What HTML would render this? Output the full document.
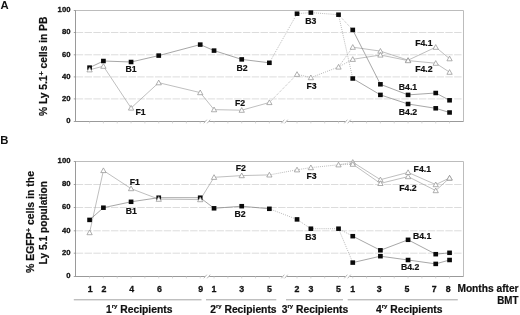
<!DOCTYPE html>
<html><head><meta charset="utf-8"><title>Figure</title>
<style>
html,body{margin:0;padding:0;background:#fff;}
body{width:520px;height:315px;overflow:hidden;}
svg{display:block;}
text{font-family:"Liberation Sans",Arial,sans-serif;font-weight:bold;fill:#111;}
.tk{font-size:7.7px;stroke:#111;stroke-width:0.3px;}
.xt{font-size:8.8px;stroke:#111;stroke-width:0.3px;}
.lb{font-size:8.7px;stroke:#111;stroke-width:0.2px;}
.ax{font-size:10px;stroke:#111;stroke-width:0.2px;}
.pn{font-size:11.3px;}
</style></head><body>
<svg width="520" height="315" viewBox="0 0 520 315">
<rect width="520" height="315" fill="#fff"/>
<line x1="75.75" y1="32.50" x2="463.5" y2="32.50" stroke="#d8d8d8" stroke-width="0.9" stroke-dasharray="7.4 1.4"/>
<line x1="75.75" y1="54.80" x2="463.5" y2="54.80" stroke="#d8d8d8" stroke-width="0.9" stroke-dasharray="7.4 1.4"/>
<line x1="75.75" y1="76.90" x2="463.5" y2="76.90" stroke="#d8d8d8" stroke-width="0.9" stroke-dasharray="7.4 1.4"/>
<line x1="75.75" y1="98.90" x2="463.5" y2="98.90" stroke="#d8d8d8" stroke-width="0.9" stroke-dasharray="7.4 1.4"/>
<path d="M75.5 10.5 H463.5 V121.5" fill="none" stroke="#bcbcbc" stroke-width="1"/>
<path d="M75.5 10.5 V121.5 H463.5" fill="none" stroke="#9a9a9a" stroke-width="1"/>
<line x1="73.75" y1="10.50" x2="75.75" y2="10.50" stroke="#8a8a8a" stroke-width="0.8"/>
<line x1="73.75" y1="32.50" x2="75.75" y2="32.50" stroke="#8a8a8a" stroke-width="0.8"/>
<line x1="73.75" y1="54.80" x2="75.75" y2="54.80" stroke="#8a8a8a" stroke-width="0.8"/>
<line x1="73.75" y1="76.90" x2="75.75" y2="76.90" stroke="#8a8a8a" stroke-width="0.8"/>
<line x1="73.75" y1="98.90" x2="75.75" y2="98.90" stroke="#8a8a8a" stroke-width="0.8"/>
<line x1="73.75" y1="121.50" x2="75.75" y2="121.50" stroke="#8a8a8a" stroke-width="0.8"/>
<line x1="89.58" y1="121.0" x2="89.58" y2="123.4" stroke="#bdbdbd" stroke-width="0.6"/>
<line x1="103.41" y1="121.0" x2="103.41" y2="123.4" stroke="#bdbdbd" stroke-width="0.6"/>
<line x1="117.24" y1="121.0" x2="117.24" y2="123.4" stroke="#bdbdbd" stroke-width="0.6"/>
<line x1="131.07" y1="121.0" x2="131.07" y2="123.4" stroke="#bdbdbd" stroke-width="0.6"/>
<line x1="144.9" y1="121.0" x2="144.9" y2="123.4" stroke="#bdbdbd" stroke-width="0.6"/>
<line x1="158.73" y1="121.0" x2="158.73" y2="123.4" stroke="#bdbdbd" stroke-width="0.6"/>
<line x1="172.56" y1="121.0" x2="172.56" y2="123.4" stroke="#bdbdbd" stroke-width="0.6"/>
<line x1="186.39" y1="121.0" x2="186.39" y2="123.4" stroke="#bdbdbd" stroke-width="0.6"/>
<line x1="200.22" y1="121.0" x2="200.22" y2="123.4" stroke="#bdbdbd" stroke-width="0.6"/>
<line x1="214.05" y1="121.0" x2="214.05" y2="123.4" stroke="#bdbdbd" stroke-width="0.6"/>
<line x1="227.88" y1="121.0" x2="227.88" y2="123.4" stroke="#bdbdbd" stroke-width="0.6"/>
<line x1="241.71" y1="121.0" x2="241.71" y2="123.4" stroke="#bdbdbd" stroke-width="0.6"/>
<line x1="255.54" y1="121.0" x2="255.54" y2="123.4" stroke="#bdbdbd" stroke-width="0.6"/>
<line x1="269.37" y1="121.0" x2="269.37" y2="123.4" stroke="#bdbdbd" stroke-width="0.6"/>
<line x1="283.2" y1="121.0" x2="283.2" y2="123.4" stroke="#bdbdbd" stroke-width="0.6"/>
<line x1="297.03" y1="121.0" x2="297.03" y2="123.4" stroke="#bdbdbd" stroke-width="0.6"/>
<line x1="310.86" y1="121.0" x2="310.86" y2="123.4" stroke="#bdbdbd" stroke-width="0.6"/>
<line x1="324.69" y1="121.0" x2="324.69" y2="123.4" stroke="#bdbdbd" stroke-width="0.6"/>
<line x1="338.52" y1="121.0" x2="338.52" y2="123.4" stroke="#bdbdbd" stroke-width="0.6"/>
<line x1="352.75" y1="121.0" x2="352.75" y2="123.4" stroke="#bdbdbd" stroke-width="0.6"/>
<line x1="366.58" y1="121.0" x2="366.58" y2="123.4" stroke="#bdbdbd" stroke-width="0.6"/>
<line x1="380.41" y1="121.0" x2="380.41" y2="123.4" stroke="#bdbdbd" stroke-width="0.6"/>
<line x1="394.24" y1="121.0" x2="394.24" y2="123.4" stroke="#bdbdbd" stroke-width="0.6"/>
<line x1="408.07" y1="121.0" x2="408.07" y2="123.4" stroke="#bdbdbd" stroke-width="0.6"/>
<line x1="421.9" y1="121.0" x2="421.9" y2="123.4" stroke="#bdbdbd" stroke-width="0.6"/>
<line x1="435.73" y1="121.0" x2="435.73" y2="123.4" stroke="#bdbdbd" stroke-width="0.6"/>
<line x1="449.56" y1="121.0" x2="449.56" y2="123.4" stroke="#bdbdbd" stroke-width="0.6"/>
<rect x="204.8" y="120.5" width="4.4" height="2" fill="#fff"/>
<line x1="203.8" y1="123.3" x2="206.8" y2="119.7" stroke="#9a9a9a" stroke-width="0.7"/>
<line x1="207.2" y1="123.3" x2="210.2" y2="119.7" stroke="#9a9a9a" stroke-width="0.7"/>
<rect x="282.3" y="120.5" width="4.4" height="2" fill="#fff"/>
<line x1="281.3" y1="123.3" x2="284.3" y2="119.7" stroke="#9a9a9a" stroke-width="0.7"/>
<line x1="284.7" y1="123.3" x2="287.7" y2="119.7" stroke="#9a9a9a" stroke-width="0.7"/>
<rect x="345.3" y="120.5" width="4.4" height="2" fill="#fff"/>
<line x1="344.3" y1="123.3" x2="347.3" y2="119.7" stroke="#9a9a9a" stroke-width="0.7"/>
<line x1="347.7" y1="123.3" x2="350.7" y2="119.7" stroke="#9a9a9a" stroke-width="0.7"/>
<text x="70.45" y="12.40" text-anchor="end" class="tk">100</text>
<text x="70.45" y="34.40" text-anchor="end" class="tk">80</text>
<text x="70.45" y="56.70" text-anchor="end" class="tk">60</text>
<text x="70.45" y="78.80" text-anchor="end" class="tk">40</text>
<text x="70.45" y="100.80" text-anchor="end" class="tk">20</text>
<text x="70.45" y="123.40" text-anchor="end" class="tk">0</text>
<polyline points="89.58,69.8 103.41,66.2 131.07,108.0 158.73,82.7 200.22,92.6 214.05,109.65 241.71,110.2 269.37,102.5" fill="none" stroke="#949494" stroke-width="0.6"/>
<polyline points="269.37,102.5 297.03,74.3" fill="none" stroke="#8c8c8c" stroke-width="0.6" stroke-dasharray="1 1.1"/>
<polyline points="297.03,74.3 310.86,77.6 338.52,67.0" fill="none" stroke="#8c8c8c" stroke-width="0.6" stroke-dasharray="1 1.1"/>
<polyline points="338.52,67.0 352.75,47.2" fill="none" stroke="#8c8c8c" stroke-width="0.6" stroke-dasharray="1 1.1"/>
<polyline points="338.52,67.0 352.75,59.3" fill="none" stroke="#8c8c8c" stroke-width="0.6" stroke-dasharray="1 1.1"/>
<polyline points="352.75,47.2 380.41,51.1 408.07,60.2 435.73,47.2 449.56,58.7" fill="none" stroke="#949494" stroke-width="0.6"/>
<polyline points="352.75,59.3 380.41,55.0 408.07,60.6 435.73,63.2 449.56,72.2" fill="none" stroke="#949494" stroke-width="0.6"/>
<polyline points="89.58,67.6 103.41,61.0 131.07,62.0 158.73,55.6 200.22,44.6 214.05,50.6 241.71,59.4 269.37,62.8" fill="none" stroke="#6c6c6c" stroke-width="0.6"/>
<polyline points="269.37,62.8 297.03,13.7" fill="none" stroke="#8c8c8c" stroke-width="0.6" stroke-dasharray="1 1.1"/>
<polyline points="297.03,13.7 310.86,12.6 338.52,14.7" fill="none" stroke="#8c8c8c" stroke-width="0.6" stroke-dasharray="1 1.1"/>
<polyline points="338.52,14.7 352.75,29.9" fill="none" stroke="#8c8c8c" stroke-width="0.6" stroke-dasharray="1 1.1"/>
<polyline points="338.52,14.7 352.75,78.5" fill="none" stroke="#8c8c8c" stroke-width="0.6" stroke-dasharray="1 1.1"/>
<polyline points="352.75,29.9 380.41,84.3 408.07,94.9 435.73,93.0 449.56,100.3" fill="none" stroke="#6c6c6c" stroke-width="0.6"/>
<polyline points="352.75,78.5 380.41,94.9 408.07,104.0 435.73,108.3 449.56,112.5" fill="none" stroke="#6c6c6c" stroke-width="0.6"/>
<rect x="87.23" y="65.35" width="4.7" height="4.5" fill="#0a0a0a"/>
<rect x="101.06" y="58.75" width="4.7" height="4.5" fill="#0a0a0a"/>
<rect x="128.72" y="59.75" width="4.7" height="4.5" fill="#0a0a0a"/>
<rect x="156.38" y="53.35" width="4.7" height="4.5" fill="#0a0a0a"/>
<rect x="197.87" y="42.35" width="4.7" height="4.5" fill="#0a0a0a"/>
<rect x="211.70" y="48.35" width="4.7" height="4.5" fill="#0a0a0a"/>
<rect x="239.36" y="57.15" width="4.7" height="4.5" fill="#0a0a0a"/>
<rect x="267.02" y="60.55" width="4.7" height="4.5" fill="#0a0a0a"/>
<rect x="294.68" y="11.45" width="4.7" height="4.5" fill="#0a0a0a"/>
<rect x="308.51" y="10.35" width="4.7" height="4.5" fill="#0a0a0a"/>
<rect x="336.17" y="12.45" width="4.7" height="4.5" fill="#0a0a0a"/>
<rect x="350.40" y="27.65" width="4.7" height="4.5" fill="#0a0a0a"/>
<rect x="378.06" y="82.05" width="4.7" height="4.5" fill="#0a0a0a"/>
<rect x="405.72" y="92.65" width="4.7" height="4.5" fill="#0a0a0a"/>
<rect x="433.38" y="90.75" width="4.7" height="4.5" fill="#0a0a0a"/>
<rect x="447.21" y="98.05" width="4.7" height="4.5" fill="#0a0a0a"/>
<rect x="350.40" y="76.25" width="4.7" height="4.5" fill="#0a0a0a"/>
<rect x="378.06" y="92.65" width="4.7" height="4.5" fill="#0a0a0a"/>
<rect x="405.72" y="101.75" width="4.7" height="4.5" fill="#0a0a0a"/>
<rect x="433.38" y="106.05" width="4.7" height="4.5" fill="#0a0a0a"/>
<rect x="447.21" y="110.25" width="4.7" height="4.5" fill="#0a0a0a"/>
<path d="M89.58 67.20 L92.23 71.90 L86.93 71.90 Z" fill="#fff" stroke="#8e8e8e" stroke-width="0.7"/>
<path d="M103.41 63.60 L106.06 68.30 L100.76 68.30 Z" fill="#fff" stroke="#8e8e8e" stroke-width="0.7"/>
<path d="M131.07 105.40 L133.72 110.10 L128.42 110.10 Z" fill="#fff" stroke="#8e8e8e" stroke-width="0.7"/>
<path d="M158.73 80.10 L161.38 84.80 L156.08 84.80 Z" fill="#fff" stroke="#8e8e8e" stroke-width="0.7"/>
<path d="M200.22 90.00 L202.87 94.70 L197.57 94.70 Z" fill="#fff" stroke="#8e8e8e" stroke-width="0.7"/>
<path d="M214.05 107.05 L216.70 111.75 L211.40 111.75 Z" fill="#fff" stroke="#8e8e8e" stroke-width="0.7"/>
<path d="M241.71 107.60 L244.36 112.30 L239.06 112.30 Z" fill="#fff" stroke="#8e8e8e" stroke-width="0.7"/>
<path d="M269.37 99.90 L272.02 104.60 L266.72 104.60 Z" fill="#fff" stroke="#8e8e8e" stroke-width="0.7"/>
<path d="M297.03 71.70 L299.68 76.40 L294.38 76.40 Z" fill="#fff" stroke="#8e8e8e" stroke-width="0.7"/>
<path d="M310.86 75.00 L313.51 79.70 L308.21 79.70 Z" fill="#fff" stroke="#8e8e8e" stroke-width="0.7"/>
<path d="M338.52 64.40 L341.17 69.10 L335.87 69.10 Z" fill="#fff" stroke="#8e8e8e" stroke-width="0.7"/>
<path d="M352.75 44.60 L355.40 49.30 L350.10 49.30 Z" fill="#fff" stroke="#8e8e8e" stroke-width="0.7"/>
<path d="M380.41 48.50 L383.06 53.20 L377.76 53.20 Z" fill="#fff" stroke="#8e8e8e" stroke-width="0.7"/>
<path d="M408.07 57.60 L410.72 62.30 L405.42 62.30 Z" fill="#fff" stroke="#8e8e8e" stroke-width="0.7"/>
<path d="M435.73 44.60 L438.38 49.30 L433.08 49.30 Z" fill="#fff" stroke="#8e8e8e" stroke-width="0.7"/>
<path d="M449.56 56.10 L452.21 60.80 L446.91 60.80 Z" fill="#fff" stroke="#8e8e8e" stroke-width="0.7"/>
<path d="M352.75 56.70 L355.40 61.40 L350.10 61.40 Z" fill="#fff" stroke="#8e8e8e" stroke-width="0.7"/>
<path d="M380.41 52.40 L383.06 57.10 L377.76 57.10 Z" fill="#fff" stroke="#8e8e8e" stroke-width="0.7"/>
<path d="M408.07 58.00 L410.72 62.70 L405.42 62.70 Z" fill="#fff" stroke="#8e8e8e" stroke-width="0.7"/>
<path d="M435.73 60.60 L438.38 65.30 L433.08 65.30 Z" fill="#fff" stroke="#8e8e8e" stroke-width="0.7"/>
<path d="M449.56 69.60 L452.21 74.30 L446.91 74.30 Z" fill="#fff" stroke="#8e8e8e" stroke-width="0.7"/>
<line x1="75.75" y1="184.50" x2="463.5" y2="184.50" stroke="#d8d8d8" stroke-width="0.9" stroke-dasharray="7.4 1.4"/>
<line x1="75.75" y1="207.50" x2="463.5" y2="207.50" stroke="#d8d8d8" stroke-width="0.9" stroke-dasharray="7.4 1.4"/>
<line x1="75.75" y1="230.80" x2="463.5" y2="230.80" stroke="#d8d8d8" stroke-width="0.9" stroke-dasharray="7.4 1.4"/>
<line x1="75.75" y1="253.20" x2="463.5" y2="253.20" stroke="#d8d8d8" stroke-width="0.9" stroke-dasharray="7.4 1.4"/>
<path d="M75.5 161.5 H463.5 V276.5" fill="none" stroke="#bcbcbc" stroke-width="1"/>
<path d="M75.5 161.5 V276.5 H463.5" fill="none" stroke="#9a9a9a" stroke-width="1"/>
<line x1="73.75" y1="161.50" x2="75.75" y2="161.50" stroke="#8a8a8a" stroke-width="0.8"/>
<line x1="73.75" y1="184.50" x2="75.75" y2="184.50" stroke="#8a8a8a" stroke-width="0.8"/>
<line x1="73.75" y1="207.50" x2="75.75" y2="207.50" stroke="#8a8a8a" stroke-width="0.8"/>
<line x1="73.75" y1="230.80" x2="75.75" y2="230.80" stroke="#8a8a8a" stroke-width="0.8"/>
<line x1="73.75" y1="253.20" x2="75.75" y2="253.20" stroke="#8a8a8a" stroke-width="0.8"/>
<line x1="73.75" y1="276.50" x2="75.75" y2="276.50" stroke="#8a8a8a" stroke-width="0.8"/>
<line x1="89.58" y1="276.0" x2="89.58" y2="278.4" stroke="#bdbdbd" stroke-width="0.6"/>
<line x1="103.41" y1="276.0" x2="103.41" y2="278.4" stroke="#bdbdbd" stroke-width="0.6"/>
<line x1="117.24" y1="276.0" x2="117.24" y2="278.4" stroke="#bdbdbd" stroke-width="0.6"/>
<line x1="131.07" y1="276.0" x2="131.07" y2="278.4" stroke="#bdbdbd" stroke-width="0.6"/>
<line x1="144.9" y1="276.0" x2="144.9" y2="278.4" stroke="#bdbdbd" stroke-width="0.6"/>
<line x1="158.73" y1="276.0" x2="158.73" y2="278.4" stroke="#bdbdbd" stroke-width="0.6"/>
<line x1="172.56" y1="276.0" x2="172.56" y2="278.4" stroke="#bdbdbd" stroke-width="0.6"/>
<line x1="186.39" y1="276.0" x2="186.39" y2="278.4" stroke="#bdbdbd" stroke-width="0.6"/>
<line x1="200.22" y1="276.0" x2="200.22" y2="278.4" stroke="#bdbdbd" stroke-width="0.6"/>
<line x1="214.05" y1="276.0" x2="214.05" y2="278.4" stroke="#bdbdbd" stroke-width="0.6"/>
<line x1="227.88" y1="276.0" x2="227.88" y2="278.4" stroke="#bdbdbd" stroke-width="0.6"/>
<line x1="241.71" y1="276.0" x2="241.71" y2="278.4" stroke="#bdbdbd" stroke-width="0.6"/>
<line x1="255.54" y1="276.0" x2="255.54" y2="278.4" stroke="#bdbdbd" stroke-width="0.6"/>
<line x1="269.37" y1="276.0" x2="269.37" y2="278.4" stroke="#bdbdbd" stroke-width="0.6"/>
<line x1="283.2" y1="276.0" x2="283.2" y2="278.4" stroke="#bdbdbd" stroke-width="0.6"/>
<line x1="297.03" y1="276.0" x2="297.03" y2="278.4" stroke="#bdbdbd" stroke-width="0.6"/>
<line x1="310.86" y1="276.0" x2="310.86" y2="278.4" stroke="#bdbdbd" stroke-width="0.6"/>
<line x1="324.69" y1="276.0" x2="324.69" y2="278.4" stroke="#bdbdbd" stroke-width="0.6"/>
<line x1="338.52" y1="276.0" x2="338.52" y2="278.4" stroke="#bdbdbd" stroke-width="0.6"/>
<line x1="352.75" y1="276.0" x2="352.75" y2="278.4" stroke="#bdbdbd" stroke-width="0.6"/>
<line x1="366.58" y1="276.0" x2="366.58" y2="278.4" stroke="#bdbdbd" stroke-width="0.6"/>
<line x1="380.41" y1="276.0" x2="380.41" y2="278.4" stroke="#bdbdbd" stroke-width="0.6"/>
<line x1="394.24" y1="276.0" x2="394.24" y2="278.4" stroke="#bdbdbd" stroke-width="0.6"/>
<line x1="408.07" y1="276.0" x2="408.07" y2="278.4" stroke="#bdbdbd" stroke-width="0.6"/>
<line x1="421.9" y1="276.0" x2="421.9" y2="278.4" stroke="#bdbdbd" stroke-width="0.6"/>
<line x1="435.73" y1="276.0" x2="435.73" y2="278.4" stroke="#bdbdbd" stroke-width="0.6"/>
<line x1="449.56" y1="276.0" x2="449.56" y2="278.4" stroke="#bdbdbd" stroke-width="0.6"/>
<rect x="204.8" y="275.5" width="4.4" height="2" fill="#fff"/>
<line x1="203.8" y1="278.3" x2="206.8" y2="274.7" stroke="#9a9a9a" stroke-width="0.7"/>
<line x1="207.2" y1="278.3" x2="210.2" y2="274.7" stroke="#9a9a9a" stroke-width="0.7"/>
<rect x="282.3" y="275.5" width="4.4" height="2" fill="#fff"/>
<line x1="281.3" y1="278.3" x2="284.3" y2="274.7" stroke="#9a9a9a" stroke-width="0.7"/>
<line x1="284.7" y1="278.3" x2="287.7" y2="274.7" stroke="#9a9a9a" stroke-width="0.7"/>
<rect x="345.3" y="275.5" width="4.4" height="2" fill="#fff"/>
<line x1="344.3" y1="278.3" x2="347.3" y2="274.7" stroke="#9a9a9a" stroke-width="0.7"/>
<line x1="347.7" y1="278.3" x2="350.7" y2="274.7" stroke="#9a9a9a" stroke-width="0.7"/>
<text x="70.45" y="163.40" text-anchor="end" class="tk">100</text>
<text x="70.45" y="186.40" text-anchor="end" class="tk">80</text>
<text x="70.45" y="209.40" text-anchor="end" class="tk">60</text>
<text x="70.45" y="232.70" text-anchor="end" class="tk">40</text>
<text x="70.45" y="255.10" text-anchor="end" class="tk">20</text>
<text x="70.45" y="278.40" text-anchor="end" class="tk">0</text>
<polyline points="89.58,232.6 103.41,170.5 131.07,188.6 158.73,199.2 200.22,199.6 214.05,177.3 241.71,175.6 269.37,174.9" fill="none" stroke="#949494" stroke-width="0.6"/>
<polyline points="269.37,174.9 297.03,169.8" fill="none" stroke="#8c8c8c" stroke-width="0.6" stroke-dasharray="1 1.1"/>
<polyline points="297.03,169.8 310.86,167.6 338.52,164.8" fill="none" stroke="#8c8c8c" stroke-width="0.6" stroke-dasharray="1 1.1"/>
<polyline points="338.52,164.8 352.75,162.2" fill="none" stroke="#8c8c8c" stroke-width="0.6" stroke-dasharray="1 1.1"/>
<polyline points="338.52,164.8 352.75,164.2" fill="none" stroke="#8c8c8c" stroke-width="0.6" stroke-dasharray="1 1.1"/>
<polyline points="352.75,162.2 380.41,179.7 408.07,172.4 435.73,184.6 449.56,178.0" fill="none" stroke="#949494" stroke-width="0.6"/>
<polyline points="352.75,164.2 380.41,183.4 408.07,176.6 435.73,190.6 449.56,178.0" fill="none" stroke="#949494" stroke-width="0.6"/>
<polyline points="89.58,219.9 103.41,207.7 131.07,201.8 158.73,197.7 200.22,197.7 214.05,208.3 241.71,206.2 269.37,208.8" fill="none" stroke="#6c6c6c" stroke-width="0.6"/>
<polyline points="269.37,208.8 297.03,219.4" fill="none" stroke="#8c8c8c" stroke-width="0.6" stroke-dasharray="1 1.1"/>
<polyline points="297.03,219.4 310.86,228.7 338.52,228.7" fill="none" stroke="#8c8c8c" stroke-width="0.6" stroke-dasharray="1 1.1"/>
<polyline points="338.52,228.7 352.75,236.2" fill="none" stroke="#8c8c8c" stroke-width="0.6" stroke-dasharray="1 1.1"/>
<polyline points="338.52,228.7 352.75,262.6" fill="none" stroke="#8c8c8c" stroke-width="0.6" stroke-dasharray="1 1.1"/>
<polyline points="352.75,236.2 380.41,250.3 408.07,239.8 435.73,254.2 449.56,252.8" fill="none" stroke="#6c6c6c" stroke-width="0.6"/>
<polyline points="352.75,262.6 380.41,256.2 408.07,260.0 435.73,263.9 449.56,260.0" fill="none" stroke="#6c6c6c" stroke-width="0.6"/>
<rect x="87.23" y="217.65" width="4.7" height="4.5" fill="#0a0a0a"/>
<rect x="101.06" y="205.45" width="4.7" height="4.5" fill="#0a0a0a"/>
<rect x="128.72" y="199.55" width="4.7" height="4.5" fill="#0a0a0a"/>
<rect x="156.38" y="195.45" width="4.7" height="4.5" fill="#0a0a0a"/>
<rect x="197.87" y="195.45" width="4.7" height="4.5" fill="#0a0a0a"/>
<rect x="211.70" y="206.05" width="4.7" height="4.5" fill="#0a0a0a"/>
<rect x="239.36" y="203.95" width="4.7" height="4.5" fill="#0a0a0a"/>
<rect x="267.02" y="206.55" width="4.7" height="4.5" fill="#0a0a0a"/>
<rect x="294.68" y="217.15" width="4.7" height="4.5" fill="#0a0a0a"/>
<rect x="308.51" y="226.45" width="4.7" height="4.5" fill="#0a0a0a"/>
<rect x="336.17" y="226.45" width="4.7" height="4.5" fill="#0a0a0a"/>
<rect x="350.40" y="233.95" width="4.7" height="4.5" fill="#0a0a0a"/>
<rect x="378.06" y="248.05" width="4.7" height="4.5" fill="#0a0a0a"/>
<rect x="405.72" y="237.55" width="4.7" height="4.5" fill="#0a0a0a"/>
<rect x="433.38" y="251.95" width="4.7" height="4.5" fill="#0a0a0a"/>
<rect x="447.21" y="250.55" width="4.7" height="4.5" fill="#0a0a0a"/>
<rect x="350.40" y="260.35" width="4.7" height="4.5" fill="#0a0a0a"/>
<rect x="378.06" y="253.95" width="4.7" height="4.5" fill="#0a0a0a"/>
<rect x="405.72" y="257.75" width="4.7" height="4.5" fill="#0a0a0a"/>
<rect x="433.38" y="261.65" width="4.7" height="4.5" fill="#0a0a0a"/>
<rect x="447.21" y="257.75" width="4.7" height="4.5" fill="#0a0a0a"/>
<path d="M89.58 230.00 L92.23 234.70 L86.93 234.70 Z" fill="#fff" stroke="#8e8e8e" stroke-width="0.7"/>
<path d="M103.41 167.90 L106.06 172.60 L100.76 172.60 Z" fill="#fff" stroke="#8e8e8e" stroke-width="0.7"/>
<path d="M131.07 186.00 L133.72 190.70 L128.42 190.70 Z" fill="#fff" stroke="#8e8e8e" stroke-width="0.7"/>
<path d="M158.73 196.60 L161.38 201.30 L156.08 201.30 Z" fill="#fff" stroke="#8e8e8e" stroke-width="0.7"/>
<path d="M200.22 197.00 L202.87 201.70 L197.57 201.70 Z" fill="#fff" stroke="#8e8e8e" stroke-width="0.7"/>
<path d="M214.05 174.70 L216.70 179.40 L211.40 179.40 Z" fill="#fff" stroke="#8e8e8e" stroke-width="0.7"/>
<path d="M241.71 173.00 L244.36 177.70 L239.06 177.70 Z" fill="#fff" stroke="#8e8e8e" stroke-width="0.7"/>
<path d="M269.37 172.30 L272.02 177.00 L266.72 177.00 Z" fill="#fff" stroke="#8e8e8e" stroke-width="0.7"/>
<path d="M297.03 167.20 L299.68 171.90 L294.38 171.90 Z" fill="#fff" stroke="#8e8e8e" stroke-width="0.7"/>
<path d="M310.86 165.00 L313.51 169.70 L308.21 169.70 Z" fill="#fff" stroke="#8e8e8e" stroke-width="0.7"/>
<path d="M338.52 162.20 L341.17 166.90 L335.87 166.90 Z" fill="#fff" stroke="#8e8e8e" stroke-width="0.7"/>
<path d="M352.75 159.60 L355.40 164.30 L350.10 164.30 Z" fill="#fff" stroke="#8e8e8e" stroke-width="0.7"/>
<path d="M380.41 177.10 L383.06 181.80 L377.76 181.80 Z" fill="#fff" stroke="#8e8e8e" stroke-width="0.7"/>
<path d="M408.07 169.80 L410.72 174.50 L405.42 174.50 Z" fill="#fff" stroke="#8e8e8e" stroke-width="0.7"/>
<path d="M435.73 182.00 L438.38 186.70 L433.08 186.70 Z" fill="#fff" stroke="#8e8e8e" stroke-width="0.7"/>
<path d="M449.56 175.40 L452.21 180.10 L446.91 180.10 Z" fill="#fff" stroke="#8e8e8e" stroke-width="0.7"/>
<path d="M352.75 161.60 L355.40 166.30 L350.10 166.30 Z" fill="#fff" stroke="#8e8e8e" stroke-width="0.7"/>
<path d="M380.41 180.80 L383.06 185.50 L377.76 185.50 Z" fill="#fff" stroke="#8e8e8e" stroke-width="0.7"/>
<path d="M408.07 174.00 L410.72 178.70 L405.42 178.70 Z" fill="#fff" stroke="#8e8e8e" stroke-width="0.7"/>
<path d="M435.73 188.00 L438.38 192.70 L433.08 192.70 Z" fill="#fff" stroke="#8e8e8e" stroke-width="0.7"/>
<path d="M449.56 175.40 L452.21 180.10 L446.91 180.10 Z" fill="#fff" stroke="#8e8e8e" stroke-width="0.7"/>
<text x="0.5" y="8.6" class="pn" text-anchor="start">A</text>
<text x="0.2" y="143.9" class="pn" text-anchor="start">B</text>
<text x="125.6" y="72.4" class="lb" text-anchor="start">B1</text>
<text x="135.4" y="115" class="lb" text-anchor="start">F1</text>
<text x="236.6" y="70.8" class="lb" text-anchor="start">B2</text>
<text x="235" y="106" class="lb" text-anchor="start">F2</text>
<text x="305.3" y="23.5" class="lb" text-anchor="start">B3</text>
<text x="306.4" y="89" class="lb" text-anchor="start">F3</text>
<text x="415.2" y="46.2" class="lb" text-anchor="start">F4.1</text>
<text x="415.2" y="72" class="lb" text-anchor="start">F4.2</text>
<text x="398.8" y="90.4" class="lb" text-anchor="start">B4.1</text>
<text x="398.8" y="114.6" class="lb" text-anchor="start">B4.2</text>
<text x="129.7" y="184.6" class="lb" text-anchor="start">F1</text>
<text x="125.7" y="213.9" class="lb" text-anchor="start">B1</text>
<text x="235.8" y="170.7" class="lb" text-anchor="start">F2</text>
<text x="234.4" y="216.8" class="lb" text-anchor="start">B2</text>
<text x="306.4" y="178.8" class="lb" text-anchor="start">F3</text>
<text x="305.3" y="239.6" class="lb" text-anchor="start">B3</text>
<text x="413.6" y="172.3" class="lb" text-anchor="start">F4.1</text>
<text x="399.3" y="191.3" class="lb" text-anchor="start">F4.2</text>
<text x="413" y="239" class="lb" text-anchor="start">B4.1</text>
<text x="401" y="270" class="lb" text-anchor="start">B4.2</text>
<text transform="translate(46.5,116) rotate(-90)" class="ax" textLength="99.3" lengthAdjust="spacingAndGlyphs">% Ly 5.1<tspan dy="-3" font-size="7">+</tspan><tspan dy="3"> cells in PB</tspan></text>
<text transform="translate(34.3,273) rotate(-90)" class="ax" textLength="102" lengthAdjust="spacingAndGlyphs">% EGFP<tspan dy="-3" font-size="7">+</tspan><tspan dy="3"> cells in the</tspan></text>
<text transform="translate(46.9,264.4) rotate(-90)" class="ax" textLength="83.4" lengthAdjust="spacingAndGlyphs">Ly 5.1 population</text>
<text x="90.17999999999999" y="292.2" class="xt" text-anchor="middle">1</text>
<text x="104.00999999999999" y="292.2" class="xt" text-anchor="middle">2</text>
<text x="131.67" y="292.2" class="xt" text-anchor="middle">4</text>
<text x="159.32999999999998" y="292.2" class="xt" text-anchor="middle">6</text>
<text x="200.82" y="292.2" class="xt" text-anchor="middle">9</text>
<text x="214.05" y="292.2" class="xt" text-anchor="middle">1</text>
<text x="241.71" y="292.2" class="xt" text-anchor="middle">3</text>
<text x="269.37" y="292.2" class="xt" text-anchor="middle">5</text>
<text x="297.03" y="292.2" class="xt" text-anchor="middle">2</text>
<text x="310.86" y="292.2" class="xt" text-anchor="middle">3</text>
<text x="338.52" y="292.2" class="xt" text-anchor="middle">5</text>
<text x="352.8" y="292.2" class="xt" text-anchor="middle">1</text>
<text x="379.1" y="292.2" class="xt" text-anchor="middle">3</text>
<text x="406.9" y="292.2" class="xt" text-anchor="middle">5</text>
<text x="434.3" y="292.2" class="xt" text-anchor="middle">7</text>
<text x="448.1" y="292.2" class="xt" text-anchor="middle">8</text>
<text x="457.4" y="291.8" class="ax" textLength="61.2" lengthAdjust="spacingAndGlyphs">Months after</text>
<text x="497.3" y="304.2" class="ax" textLength="21.2" lengthAdjust="spacingAndGlyphs">BMT</text>
<line x1="73.8" y1="299.8" x2="201.5" y2="299.8" stroke="#a4a4a4" stroke-width="1"/>
<line x1="206" y1="299.8" x2="276.3" y2="299.8" stroke="#a4a4a4" stroke-width="1"/>
<line x1="286" y1="299.8" x2="343" y2="299.8" stroke="#a4a4a4" stroke-width="1"/>
<line x1="347.7" y1="299.8" x2="457.8" y2="299.8" stroke="#a4a4a4" stroke-width="1"/>
<text x="105.99999999999999" y="312.5" class="ax" textLength="66.4" lengthAdjust="spacingAndGlyphs">1<tspan dy="-4.1" font-size="5.8">ry</tspan><tspan dy="4.1"> Recipients</tspan></text>
<text x="210.2" y="312.5" class="ax" textLength="66.4" lengthAdjust="spacingAndGlyphs">2<tspan dy="-4.1" font-size="5.8">ry</tspan><tspan dy="4.1"> Recipients</tspan></text>
<text x="281.8" y="312.5" class="ax" textLength="66.4" lengthAdjust="spacingAndGlyphs">3<tspan dy="-4.1" font-size="5.8">ry</tspan><tspan dy="4.1"> Recipients</tspan></text>
<text x="376.0" y="312.5" class="ax" textLength="66.4" lengthAdjust="spacingAndGlyphs">4<tspan dy="-4.1" font-size="5.8">ry</tspan><tspan dy="4.1"> Recipients</tspan></text>
</svg>
</body></html>
